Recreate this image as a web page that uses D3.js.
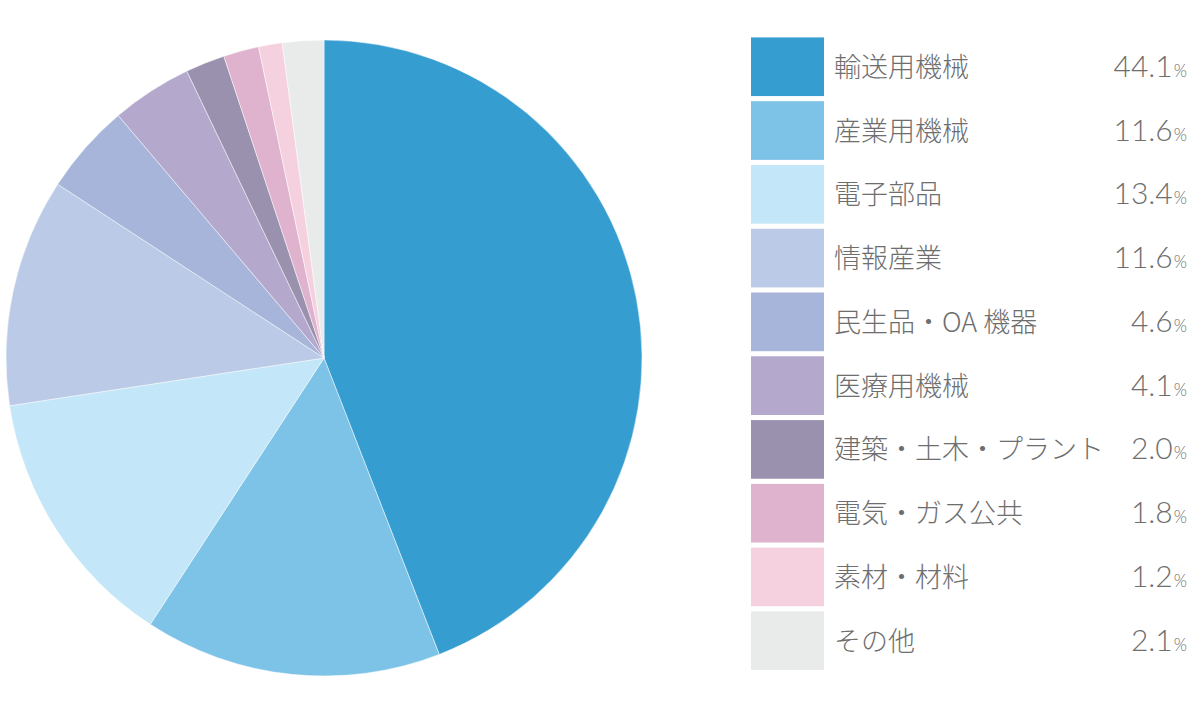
<!DOCTYPE html>
<html><head><meta charset="utf-8">
<script src="https://cdn.jsdelivr.net/npm/d3@7"></script>
<style>html,body{margin:0;padding:0;background:#fff;}svg{display:block;}</style>
</head><body>
<svg id="chart" width="1200" height="715"></svg>
<script>
const categories = ["輸送用機械","産業用機械","電子部品","情報産業","民生品・OA 機器","医療用機械","建築・土木・プラント","電気・ガス公共","素材・材料","その他"];
// slice sizes as drawn in the pie
const sliceValues = [44.1, 15.1, 13.4, 11.6, 4.6, 4.1, 2.0, 1.8, 1.2, 2.1];
// percentages printed in the legend
const legendLabels = ["44.1","11.6","13.4","11.6","4.6","4.1","2.0","1.8","1.2","2.1"];
const colors = ["#369dd1","#7cc3e7","#c3e6f8","#bbcae6","#a6b5d9","#b4a8cd","#9a91af","#dfb2cd","#f5d1e0","#e9ebeb"];

const svg = d3.select("#chart");
const cx = 324, cy = 358, r = 318;

const pie = d3.pie().sort(null).value(d => d.v);
const arc = d3.arc().innerRadius(0).outerRadius(r);
const data = categories.map((c,i)=>({c, v: sliceValues[i], col: colors[i]}));

svg.append("g").attr("transform",`translate(${cx},${cy})`)
  .selectAll("path").data(pie(data)).join("path")
  .attr("d", arc).attr("fill", d=>d.data.col)
  .attr("stroke","#ffffff").attr("stroke-width",0.8).attr("stroke-opacity",0.6);

const y = d3.scaleBand().domain(categories).range([35.5, 672]).paddingInner(0.08).paddingOuter(0.03);
const lg = svg.append("g");
const rows = lg.selectAll("g").data(data).join("g")
  .attr("transform", d=>`translate(0,${y(d.c)})`);
rows.append("rect").attr("x",751).attr("y",0).attr("width",73).attr("height",y.bandwidth())
  .attr("fill", d=>d.col);
rows.append("text").attr("x",834).attr("y", y.bandwidth()/2 + 10)
  .attr("font-family","'Noto Sans CJK JP', sans-serif").attr("font-weight",300)
  .attr("font-size",27).attr("fill","#6e6e6e").text(d=>d.c);
const pt = rows.append("text").attr("x",1187).attr("y", y.bandwidth()/2 + 10)
  .attr("text-anchor","end").attr("font-family","Lato, sans-serif").attr("font-weight",300)
  .attr("fill","#6e6e6e");
pt.append("tspan").attr("font-size",30).text((d,i)=>legendLabels[i]);
pt.append("tspan").attr("font-size",17).attr("dx",1).text("%");
</script>
</body></html>
